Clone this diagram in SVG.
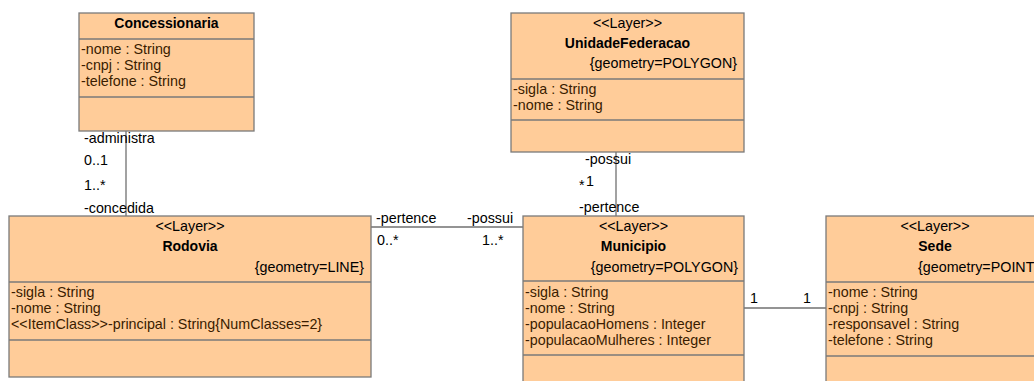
<svg xmlns="http://www.w3.org/2000/svg" width="1034" height="381" viewBox="0 0 1034 381">
<style>
.box{fill:#FFCC99;stroke:#7a7a7a;stroke-width:1.3}
.div{stroke:#7a7a7a;stroke-width:1.3;fill:none}
.t{font-family:"Liberation Sans",Arial,sans-serif;font-size:14.3px;fill:#000}
.b{font-weight:bold;font-size:14px}
.c{text-anchor:middle}
.e{text-anchor:end}
.a{font-family:"Liberation Sans",Arial,sans-serif;font-size:14.3px;fill:#3a1c00}
.con{stroke:#707070;stroke-width:1.3;fill:none}
</style>
<rect width="1034" height="381" fill="#fff"/>
<g id="connectors">
<line class="con" x1="126" y1="131" x2="126" y2="216"/>
<line class="con" x1="616" y1="152" x2="616" y2="216"/>
<line class="con" x1="371" y1="227" x2="523" y2="227"/>
<line class="con" x1="744" y1="308" x2="826" y2="308"/>
<text class="t" x="84" y="143">-administra</text>
<text class="t" x="84" y="165">0..1</text>
<text class="t" x="84" y="190">1..*</text>
<text class="t" x="84" y="213">-concedida</text>
<text class="t" x="585" y="164">-possui</text>
<text class="t" x="579" y="190">*</text>
<text class="t" x="586" y="186">1</text>
<text class="t" x="579" y="212">-pertence</text>
<text class="t" x="376" y="223">-pertence</text>
<text class="t" x="467" y="223">-possui</text>
<text class="t" x="377" y="245">0..*</text>
<text class="t" x="482" y="245">1..*</text>
<text class="t" x="750" y="303">1</text>
<text class="t" x="803" y="303">1</text>
</g>
<g id="Concessionaria">
<rect class="box" x="79" y="13" width="175" height="118"/>
<line class="div" x1="79" y1="39" x2="254" y2="39"/>
<line class="div" x1="79" y1="97" x2="254" y2="97"/>
<text class="t b c" x="166.5" y="28">Concessionaria</text>
<text class="a" x="81" y="54">-nome : String</text>
<text class="a" x="81" y="70">-cnpj : String</text>
<text class="a" x="81" y="86">-telefone : String</text>
</g>
<g id="UnidadeFederacao">
<rect class="box" x="511" y="13" width="233" height="139"/>
<line class="div" x1="511" y1="79" x2="744" y2="79"/>
<line class="div" x1="511" y1="120" x2="744" y2="120"/>
<text class="t c" x="627.5" y="28">&lt;&lt;Layer&gt;&gt;</text>
<text class="t b c" x="627.5" y="48">UnidadeFederacao</text>
<text class="t e" x="737" y="68">{geometry=POLYGON}</text>
<text class="a" x="513" y="94">-sigla : String</text>
<text class="a" x="513" y="110">-nome : String</text>
</g>
<g id="Rodovia">
<rect class="box" x="9" y="216" width="362" height="161"/>
<line class="div" x1="9" y1="282" x2="371" y2="282"/>
<line class="div" x1="9" y1="340" x2="371" y2="340"/>
<text class="t c" x="190" y="231">&lt;&lt;Layer&gt;&gt;</text>
<text class="t b c" x="190" y="251">Rodovia</text>
<text class="t e" x="364" y="272">{geometry=LINE}</text>
<text class="a" x="11" y="297">-sigla : String</text>
<text class="a" x="11" y="313">-nome : String</text>
<text class="a" x="11" y="329">&lt;&lt;ItemClass&gt;&gt;-principal : String{NumClasses=2}</text>
</g>
<g id="Municipio">
<rect class="box" x="523" y="216" width="221" height="175"/>
<line class="div" x1="523" y1="281" x2="744" y2="281"/>
<line class="div" x1="523" y1="355" x2="744" y2="355"/>
<text class="t c" x="633.5" y="231">&lt;&lt;Layer&gt;&gt;</text>
<text class="t b c" x="633.5" y="251">Municipio</text>
<text class="t e" x="738" y="272">{geometry=POLYGON}</text>
<text class="a" x="525" y="297">-sigla : String</text>
<text class="a" x="525" y="313">-nome : String</text>
<text class="a" x="525" y="329">-populacaoHomens : Integer</text>
<text class="a" x="525" y="345">-populacaoMulheres : Integer</text>
</g>
<g id="Sede">
<rect class="box" x="826" y="216" width="219" height="175"/>
<line class="div" x1="826" y1="282" x2="1045" y2="282"/>
<line class="div" x1="826" y1="356" x2="1045" y2="356"/>
<text class="t c" x="935" y="231">&lt;&lt;Layer&gt;&gt;</text>
<text class="t b c" x="935" y="251">Sede</text>
<text class="t" x="918" y="272">{geometry=POINT}</text>
<text class="a" x="828" y="297">-nome : String</text>
<text class="a" x="828" y="313">-cnpj : String</text>
<text class="a" x="828" y="329">-responsavel : String</text>
<text class="a" x="828" y="345">-telefone : String</text>
</g>
</svg>
